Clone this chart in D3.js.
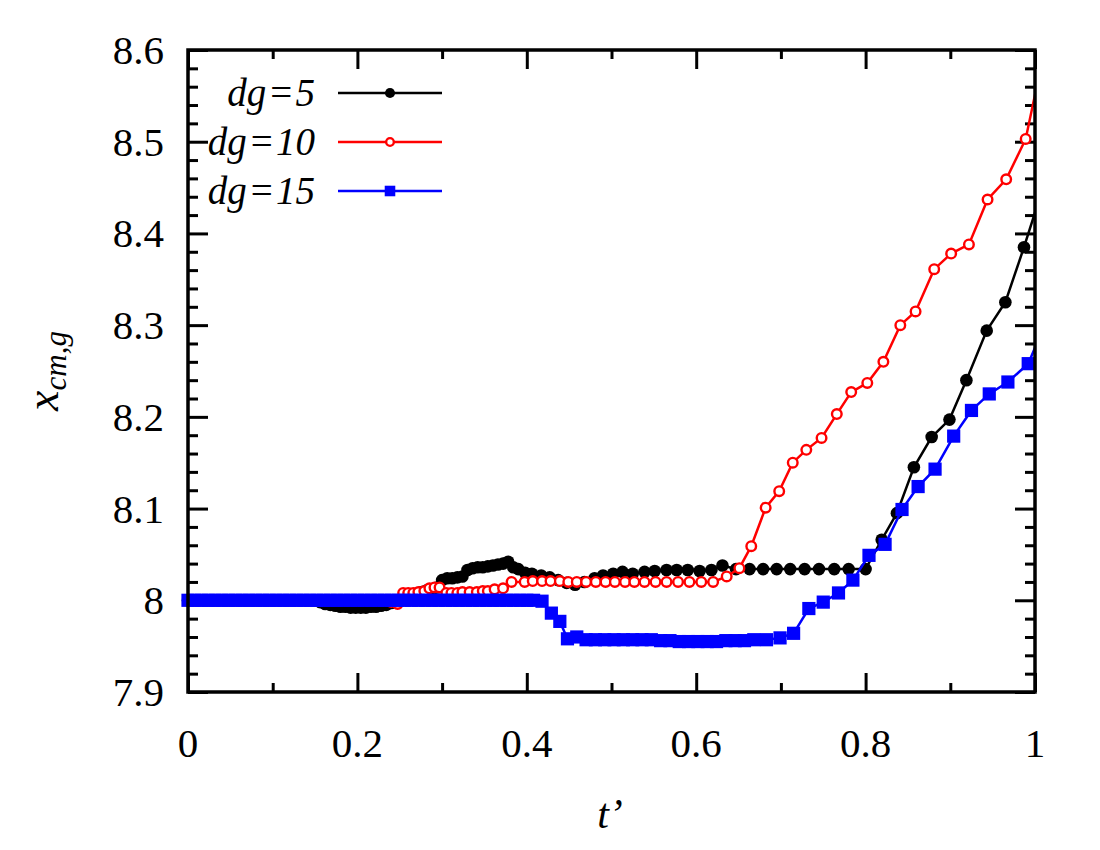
<!DOCTYPE html>
<html><head><meta charset="utf-8">
<script src="https://cdn.jsdelivr.net/npm/d3@7"></script>
<style>
body{margin:0;background:#fff}
svg{display:block}
text{font-family:"Liberation Serif","Times New Roman",serif;fill:#000}
</style>
</head><body>
<svg id="c" width="1100" height="850"></svg>
<script>
const xTicks = [0, 0.2, 0.4, 0.6, 0.8, 1];
const xTickLabels = ["0", "0.2", "0.4", "0.6", "0.8", "1"];
const xMinorTicks = [0.1, 0.3, 0.5, 0.7, 0.9];
const yTicks = [7.9, 8, 8.1, 8.2, 8.3, 8.4, 8.5, 8.6];
const yTickLabels = ["7.9", "8", "8.1", "8.2", "8.3", "8.4", "8.5", "8.6"];
const yMinorTicks = [7.92,7.94,7.96,7.98,8.02,8.04,8.06,8.08,8.12,8.14,8.16,8.18,8.22,8.24,8.26,8.28,8.32,8.34,8.36,8.38,8.42,8.44,8.46,8.48,8.52,8.54,8.56,8.58];
const seriesNames = ["dg=5", "dg=10", "dg=15"];

// [t', x_cm,g]
const dg5 = [
[0,8],[0.006,8],[0.012,8],[0.018,8],[0.024,8],[0.03,8],[0.036,8],[0.042,8],[0.048,8],[0.054,8],
[0.06,8],[0.066,8],[0.072,8],[0.078,8],[0.084,8],[0.09,8],[0.096,8],[0.102,8],[0.108,8],[0.114,8],
[0.12,8],[0.126,8],[0.132,8],[0.138,8],[0.144,8],[0.15,8],
[0.156,7.998],[0.162,7.996],[0.168,7.995],[0.174,7.994],[0.18,7.993],[0.186,7.993],[0.192,7.992],
[0.198,7.992],[0.204,7.992],[0.21,7.992],[0.216,7.993],[0.222,7.993],[0.228,7.994],[0.234,7.995],
[0.24,7.997],[0.246,7.999],[0.252,8.001],[0.258,8.003],[0.264,8.005],[0.27,8.007],[0.276,8.009],
[0.282,8.011],[0.288,8.012],[0.294,8.014],[0.3,8.022],[0.306,8.024],[0.312,8.024],[0.318,8.025],
[0.324,8.026],[0.33,8.033],[0.336,8.035],[0.342,8.036],[0.348,8.036],[0.354,8.037],[0.36,8.038],
[0.366,8.039],[0.372,8.04],[0.378,8.042],[0.384,8.036],[0.39,8.034],[0.398,8.03],[0.406,8.029],
[0.417,8.027],[0.427,8.025],[0.437,8.022],[0.447,8.019],[0.457,8.017],[0.468,8.02],[0.48,8.024],
[0.49,8.027],[0.502,8.029],[0.513,8.031],[0.525,8.029],[0.539,8.031],[0.551,8.032],[0.565,8.033],
[0.577,8.033],[0.59,8.033],[0.604,8.032],[0.618,8.033],[0.631,8.038],[0.647,8.034],[0.663,8.034],
[0.679,8.034],[0.695,8.034],[0.711,8.034],[0.728,8.034],[0.745,8.034],[0.763,8.034],[0.78,8.034],
[0.8,8.034],[0.819,8.066],[0.837,8.095],[0.857,8.145],[0.878,8.178],[0.899,8.197],[0.919,8.24],
[0.943,8.294],[0.965,8.325],[0.987,8.385],[1.008,8.446]
];

const dg10 = [
[0,8],[0.008,8],[0.016,8],[0.024,8],[0.032,8],[0.04,8],[0.048,8],[0.056,8],[0.064,8],[0.072,8],
[0.08,8],[0.088,8],[0.096,8],[0.104,8],[0.112,8],[0.12,8],[0.128,8],[0.136,8],[0.144,8],[0.152,8],
[0.16,8],[0.168,8],[0.176,8],[0.184,8],[0.192,8],[0.2,8],[0.208,8],[0.216,8],[0.224,8],[0.232,8],
[0.24,7.998],[0.2475,7.996],[0.254,8.008],[0.26,8.008],[0.266,8.008],[0.272,8.009],[0.279,8.01],
[0.285,8.013],[0.291,8.014],[0.297,8.014],[0.305,8.008],[0.311,8.008],[0.318,8.008],[0.324,8.009],
[0.3325,8.009],[0.341,8.009],[0.348,8.01],[0.354,8.01],[0.362,8.012],[0.372,8.013],[0.382,8.02],
[0.3975,8.02],[0.407,8.021],[0.418,8.021],[0.428,8.021],[0.439,8.021],[0.449,8.02],[0.459,8.02],
[0.47,8.02],[0.4815,8.02],[0.493,8.02],[0.504,8.02],[0.516,8.02],[0.527,8.02],[0.539,8.02],
[0.552,8.02],[0.565,8.02],[0.5786,8.02],[0.592,8.02],[0.606,8.02],[0.62,8.02],[0.636,8.026],
[0.651,8.035],[0.665,8.059],[0.682,8.101],[0.698,8.119],[0.714,8.15],[0.73,8.164],[0.748,8.177],
[0.766,8.203],[0.783,8.227],[0.802,8.237],[0.821,8.26],[0.841,8.3],[0.859,8.315],[0.881,8.361],
[0.901,8.378],[0.922,8.388],[0.944,8.437],[0.966,8.459],[0.989,8.503],[1.01,8.595]
];

const dg15 = [
[0,8],[0.008,8],[0.016,8],[0.024,8],[0.032,8],[0.04,8],[0.048,8],[0.056,8],[0.064,8],[0.072,8],
[0.08,8],[0.088,8],[0.096,8],[0.104,8],[0.112,8],[0.12,8],[0.128,8],[0.136,8],[0.144,8],[0.152,8],
[0.16,8],[0.168,8],[0.176,8],[0.184,8],[0.192,8],[0.2,8],[0.208,8],[0.216,8],[0.224,8],[0.232,8],
[0.24,8],[0.248,8],[0.256,8],[0.264,8],[0.272,8],[0.28,8],[0.288,8],[0.296,8],[0.304,8],[0.312,8],
[0.32,8],[0.328,8],[0.336,8],[0.344,8],[0.352,8],[0.36,8],[0.368,8],[0.376,8],[0.384,8],[0.392,8],
[0.4,8],[0.408,8],[0.418,7.999],[0.429,7.986],[0.439,7.977],[0.448,7.958],[0.459,7.96],[0.47,7.957],
[0.481,7.957],[0.492,7.957],[0.503,7.957],[0.514,7.957],[0.525,7.957],[0.536,7.957],[0.547,7.957],
[0.558,7.956],[0.569,7.956],[0.58,7.955],[0.591,7.955],[0.602,7.955],[0.613,7.955],[0.624,7.955],
[0.635,7.956],[0.646,7.956],[0.657,7.956],[0.668,7.957],[0.683,7.957],[0.699,7.959],[0.715,7.964],
[0.733,7.991],[0.75,7.998],[0.768,8.008],[0.785,8.022],[0.804,8.049],[0.823,8.061],[0.843,8.099],
[0.862,8.124],[0.882,8.143],[0.904,8.179],[0.925,8.207],[0.946,8.225],[0.968,8.238],[0.992,8.258],
[1.015,8.308]
];

const svg = d3.select("#c");
const m = {l: 188, r: 1035, t: 50, b: 692};
const x = d3.scaleLinear().domain([0, 1]).range([m.l, m.r]);
const y = d3.scaleLinear().domain([7.9, 8.6]).range([m.b, m.t]);

svg.append("defs").append("clipPath").attr("id", "clip")
  .append("rect").attr("x", m.l).attr("y", m.t).attr("width", m.r - m.l).attr("height", m.b - m.t);

function styleAxis(g) {
  g.select(".domain").remove();
  g.selectAll("line").attr("stroke", "#000").attr("stroke-width", 3);
  g.selectAll("text").remove();
}
// major + minor ticks, all inward, on all four sides
[[xTicks, 19], [xMinorTicks, 9]].forEach(([vals, len]) => {
  svg.append("g").attr("transform", `translate(0,${m.b})`)
    .call(d3.axisBottom(x).tickValues(vals).tickSize(-len)).call(styleAxis);
  svg.append("g").attr("transform", `translate(0,${m.t})`)
    .call(d3.axisTop(x).tickValues(vals).tickSize(-len)).call(styleAxis);
});
[[yTicks, 20], [yMinorTicks, 10]].forEach(([vals, len]) => {
  svg.append("g").attr("transform", `translate(${m.l},0)`)
    .call(d3.axisLeft(y).tickValues(vals).tickSize(-len)).call(styleAxis);
  svg.append("g").attr("transform", `translate(${m.r},0)`)
    .call(d3.axisRight(y).tickValues(vals).tickSize(-len)).call(styleAxis);
});

// tick labels
svg.append("g").selectAll("text").data(xTicks).join("text")
  .attr("x", d => x(d)).attr("y", 757).attr("text-anchor", "middle")
  .attr("font-size", 41).text((d, i) => xTickLabels[i]);
svg.append("g").selectAll("text").data(yTicks).join("text")
  .attr("x", 164).attr("y", d => y(d) + 14).attr("text-anchor", "end")
  .attr("font-size", 41).text((d, i) => yTickLabels[i]);

// axis titles
svg.append("text").attr("x", 610).attr("y", 828).attr("text-anchor", "middle")
  .attr("font-size", 42).attr("font-style", "italic").text("t\u2019");
const yt = svg.append("text").attr("transform", "translate(58,371) rotate(-90)")
  .attr("text-anchor", "middle").attr("font-style", "italic");
yt.append("tspan").attr("font-size", 46).text("x");
yt.append("tspan").attr("font-size", 31).attr("dy", 8).text("cm,g");

// series
const line = d3.line().x(d => x(d[0])).y(d => y(d[1]));
const plot = svg.append("g");
const series = [
  {data: dg5, color: "#000000", type: "dot"},
  {data: dg10, color: "#ff0000", type: "ring"},
  {data: dg15, color: "#0000ff", type: "square"}
];
function drawMarker(g, type, color, cx, cy, s) {
  if (type === "dot") {
    g.append("circle").attr("cx", cx).attr("cy", cy).attr("r", 6.3 * s).attr("fill", color);
  } else if (type === "ring") {
    g.append("circle").attr("cx", cx).attr("cy", cy).attr("r", 4.8 * s)
      .attr("fill", "#fff").attr("stroke", color).attr("stroke-width", 2.4);
  } else {
    const h = 6.6 * s;
    g.append("rect").attr("x", cx - h).attr("y", cy - h).attr("width", 2 * h).attr("height", 2 * h)
      .attr("fill", color);
  }
}
series.forEach(s => {
  const g = plot.append("g");
  g.append("path").datum(s.data).attr("d", line).attr("fill", "none")
    .attr("stroke", s.color).attr("stroke-width", 2.5).attr("clip-path", "url(#clip)");
  s.data.filter(d => d[0] <= 1).forEach(d => drawMarker(g, s.type, s.color, x(d[0]), y(d[1]), 1));
});

// frame
svg.append("rect").attr("x", m.l).attr("y", m.t).attr("width", m.r - m.l).attr("height", m.b - m.t)
  .attr("fill", "none").attr("stroke", "#000").attr("stroke-width", 3.5);

// legend
const legRows = [93, 142, 191];
series.forEach((s, i) => {
  const ly = legRows[i];
  const g = svg.append("g");
  const parts = seriesNames[i].split("=");
  const t = g.append("text").attr("x", 315).attr("y", ly + 13).attr("text-anchor", "end")
    .attr("font-size", 39).attr("font-style", "italic");
  t.append("tspan").text(parts[0]);
  t.append("tspan").attr("dx", 1.5).text("=");
  t.append("tspan").attr("dx", 1.5).text(parts[1]);
  g.append("line").attr("x1", 338).attr("x2", 442).attr("y1", ly).attr("y2", ly)
    .attr("stroke", s.color).attr("stroke-width", 2.6);
  drawMarker(g, s.type, s.color, 390, ly, 0.8);
});
</script>
</body></html>
